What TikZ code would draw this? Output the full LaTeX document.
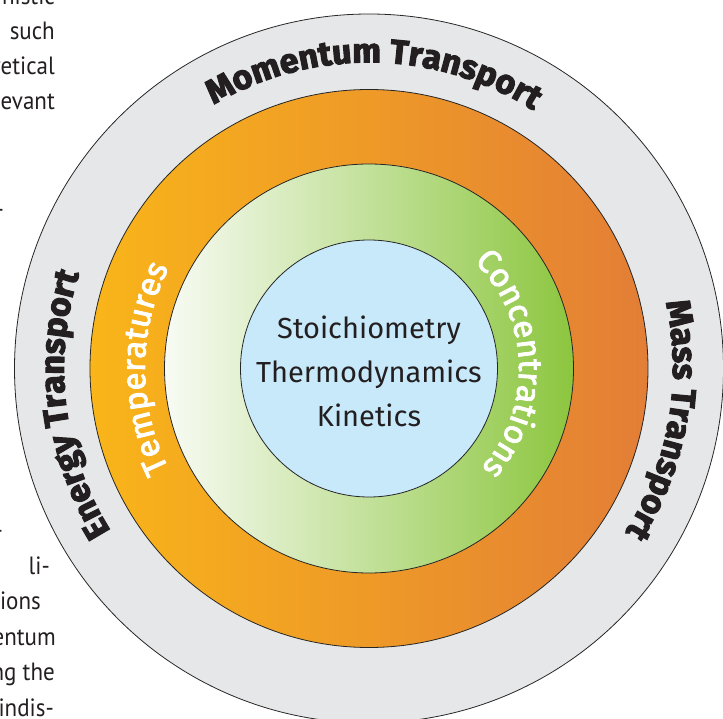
\documentclass[tikz,border=0pt]{standalone}
\usepackage{fontspec}
\setmainfont{Fira Sans}
\newfontfamily\heavyfont{Fira Sans}[BoldFeatures={FakeBold=3}]
\newfontfamily\mediumfont{Fira Sans}[FakeBold=2.5]
\newfontfamily\columnfont{PT Sans}[FakeStretch=0.92]
\usetikzlibrary{decorations.text}

\definecolor{ringGrey}{HTML}{E6E7E8}
\definecolor{orangeLeft}{HTML}{F9B519}
\definecolor{orangeRight}{HTML}{E37E36}
\definecolor{greenLeft}{HTML}{F8FBF4}
\definecolor{greenRight}{HTML}{8CC63F}
\definecolor{coreBlue}{HTML}{C7E9F9}
\definecolor{inkGrey}{HTML}{231F20}

\newcommand{\transportfont}{\heavyfont\fontsize{34}{34}\selectfont\bfseries}
\newcommand{\fieldfont}{\mediumfont\fontsize{33}{33}\selectfont}

\tikzstyle{fRing} = [draw=black!85, line width=0.8pt]
\tikzstyle{fTransport} = [decorate, decoration={text along path, text align=center, text color=inkGrey}]
\tikzstyle{fField} = [decorate, decoration={text along path, text align=center, text color=white}]
\tikzstyle{fColumn} = [anchor=base east, inner sep=0pt, text=inkGrey, font=\columnfont\fontsize{25}{25}\selectfont]

\begin{document}
\begin{tikzpicture}[x=1pt, y=1pt]
    \useasboundingbox (-369,-349.5) rectangle (354,368.5);
    \clip (-369,-349.5) rectangle (354,368.5);

    % rings, outside in
    \path [fRing, fill=ringGrey] (0,0) circle (354.5pt);
    \path [fRing, left color=orangeLeft, right color=orangeRight] (0,0) circle (279pt);
    \path [fRing, left color=greenLeft, right color=greenRight] (0,0) circle (204.5pt);
    \path [fRing, fill=coreBlue] (0,0) circle (128.5pt);

    \node (core) [align=center, text=inkGrey, font=\fontsize{29}{44}\selectfont] at (0,-3) {Stoichiometry\\Thermodynamics\\Kinetics};

    % labels set clockwise along the rings
    \path [fTransport, decoration={text={|\transportfont|Momentum Transport}}] (159:306pt) arc[start angle=159, end angle=19, radius=306pt];
    \path [fTransport, decoration={text={|\transportfont|Energy Transport}}] (257:305pt) arc[start angle=257, end angle=117, radius=305pt];
    \path [fTransport, decoration={text={|\transportfont|Mass Transport}}] (60:304pt) arc[start angle=60, end angle=-80, radius=304pt];
    \path [fField, decoration={text={|\fieldfont|Temperatures}}] (250:224pt) arc[start angle=250, end angle=110, radius=224pt];
    \path [fField, decoration={text={|\fieldfont|Concentrations}}] (90:150pt) arc[start angle=90, end angle=-86, radius=150pt];

    % column text running past the left edge
    \node (colA) [fColumn] at (-314,363.5) {nistic};
    \node (colB) [fColumn] at (-314,328.5) {such};
    \node (colC) [fColumn] at (-314,293.5) {retical};
    \node (colD) [fColumn] at (-314,258.5) {evant};
    \node (colE) [fColumn] at (-365,150.5) {-};
    \node (colF) [fColumn] at (-366,-169.5) {-};
    \node (colG) [fColumn] at (-319,-205.5) {li-};
    \node (colH) [fColumn] at (-328,-240.5) {ions};
    \node (colI) [fColumn] at (-313,-276.5) {entum};
    \node (colJ) [fColumn] at (-314,-311.5) {ng the};
    \node (colK) [fColumn] at (-315,-347.5) {indis-};
\end{tikzpicture}
\end{document}
